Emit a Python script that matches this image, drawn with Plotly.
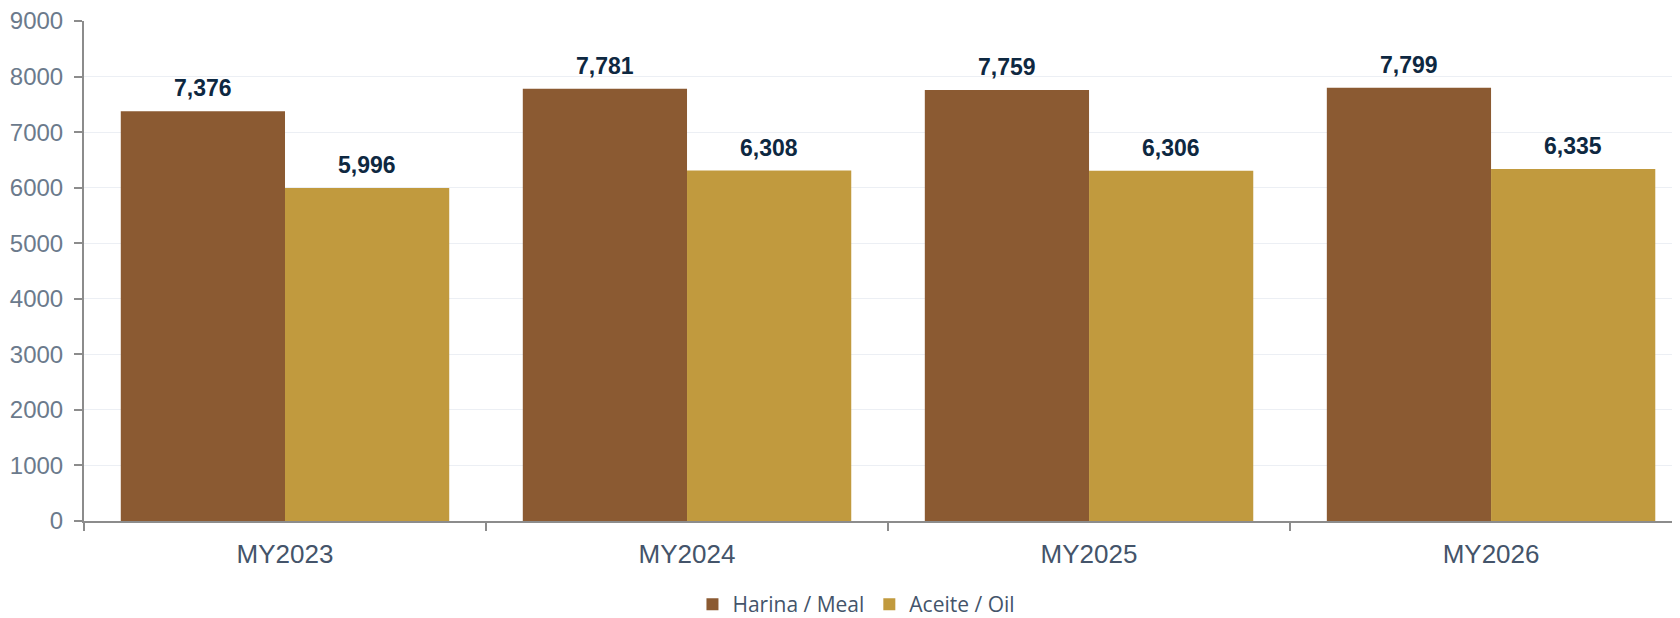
import plotly.graph_objects as go

categories = ["MY2023", "MY2024", "MY2025", "MY2026"]
meal = [7376, 7781, 7759, 7799]
oil = [5996, 6308, 6306, 6335]
series_names = ["Harina / Meal", "Aceite / Oil"]
y_ticks = [0, 1000, 2000, 3000, 4000, 5000, 6000, 7000, 8000, 9000]

colors = ["#8B5A32", "#C19A3E"]
label_color = "#0E2841"

fig = go.Figure()
for name, vals, col in zip(series_names, [meal, oil], colors):
    fig.add_trace(go.Bar(
        x=categories, y=vals, name=name,
        marker=dict(color=col, line=dict(width=0)),
    ))

bargap = 0.183
half = (1 - bargap) / 4.0
annotations = []
for i, c in enumerate(categories):
    for j, vals in enumerate([meal, oil]):
        off = -half if j == 0 else half
        annotations.append(dict(
            x=i + off, y=vals[i], xref="x", yref="y",
            text=f"{vals[i]:,}", showarrow=False,
            yanchor="bottom", yshift=8,
            font=dict(family="Liberation Sans, Arial", size=23, color=label_color, weight="bold"),
        ))

# page body has an 8px margin, so the figure is offset by (8, 8)
fig.update_layout(
    width=1672, height=610,
    margin=dict(l=76, r=0, t=13, b=97, autoexpand=False),
    paper_bgcolor="white", plot_bgcolor="white",
    barmode="group", bargap=bargap, bargroupgap=0,
    annotations=annotations,
    showlegend=True,
    legend=dict(
        orientation="h", x=0.484, xanchor="center", y=-0.167, yanchor="middle",
        font=dict(family="Open Sans", size=21, color="#44546A"),
        itemclick=False, traceorder="normal",
    ),
    xaxis=dict(
        type="category", range=[-0.5, 3.47], automargin=False,
        showline=True, linecolor="#8C8C8C", linewidth=2,
        ticks="outside", tickson="boundaries", ticklen=8, tickcolor="#8C8C8C", tickwidth=2,
        tickfont=dict(family="Liberation Sans, Arial", size=26, color="#44546A"),
        ticklabelstandoff=9,
        showgrid=False,
    ),
    yaxis=dict(
        range=[0, 9000], tickvals=y_ticks, ticktext=[str(v) for v in y_ticks],
        automargin=False, ticklabeloverflow="allow",
        showline=True, linecolor="#8C8C8C", linewidth=2,
        ticks="outside", ticklen=8, tickcolor="#8C8C8C", tickwidth=2,
        tickfont=dict(family="Liberation Sans, Arial", size=24, color="#6B7A8C"),
        ticklabelstandoff=6,
        showgrid=True, gridcolor="#ECEFF4", gridwidth=1,
        zeroline=False,
    ),
)

fig.write_html("out.html")
